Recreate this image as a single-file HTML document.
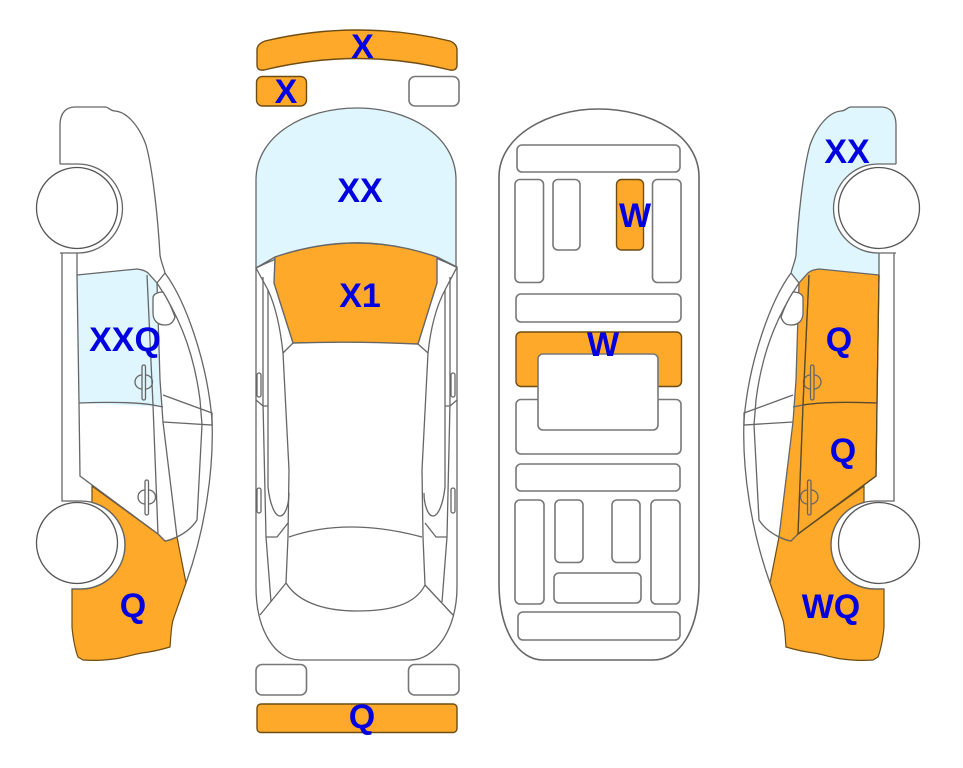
<!DOCTYPE html>
<html><head><meta charset="utf-8"><style>
html,body{margin:0;padding:0;background:#fff}
svg{display:block}
text{font-family:"Liberation Sans",sans-serif;font-weight:bold;fill:#0000e0;font-size:34px;text-anchor:middle}
.l{fill:none;stroke:#666;stroke-width:1.3}
.r{fill:#fff;stroke:#777;stroke-width:1.6}
.o{fill:#ffa92b;stroke:#6e4d12;stroke-width:1.4}
.b{fill:#dff6ff;stroke:#666;stroke-width:1.3}
.w{fill:#fff;stroke:#555;stroke-width:1.3}
.d{fill:none;stroke:#5c4a25;stroke-width:1.3}
</style></head><body>
<svg width="963" height="768" viewBox="0 0 963 768" xmlns="http://www.w3.org/2000/svg">
<defs>
<g id="carlines">
<path class="l" d="M60 164V125C60 112 67 107 75 107L105 107C109 107 110 111 115 111C128 112 140 128 146 145C153 170 158 220 160 255C161 262 163 265 165 273C185 300 207 360 212 420C214 470 205 530 186 583"/>
<path class="l" d="M165 273L157 283C175 310 193 345 200 400L202 425L197 520C192 528 185 533 177 537C172 539 168 541 165 541L158 534L80 476L79 403L77 275V253"/>
<path class="l" d="M60 164H78A44.5 44.5 0 0 1 78 253H60"/>
<path class="l" d="M62 253V501H81A44 44 0 0 1 81 589H72"/>
<path class="l" d="M77 275L137 269Q145 270 148 273L157 283L160 380L163 422L177 537"/>
<path class="l" d="M147 275L153 405L158 534"/>
<path class="l" d="M79 403C105 402 135 402 153 405L163 407"/>
<path class="l" d="M163 395L212 413V425L163 422"/>
<path d="M153 298C153 294 158 292 163 292C168 300 172 308 175 317C173 323 170 325 165 325C157 325 153 320 153 313Z" fill="#fff" stroke="#666" stroke-width="1.3"/>
<rect x="145" y="480" width="3.500" height="35" rx="1.750" class="l"/>
<path class="l" d="M145 490A7 7 0 0 0 145 504M148.500 490A7 7 0 0 1 148.500 504"/>
<rect x="142" y="365" width="3.500" height="35" rx="1.750" class="l"/>
<path class="l" d="M142 375A7 7 0 0 0 142 389M145.500 375A7 7 0 0 1 145.500 389"/>
<circle class="w" cx="77" cy="208" r="40.5"/>
<circle class="w" cx="77" cy="543" r="40.5"/>
</g>
</defs>

<!-- top bumper -->
<path class="o" d="M265 41Q358 19 450 41Q457 44 457 50V65Q457 71 450 70Q358 47 264 70Q257 71 257 65V50Q257 44 265 41Z"/>
<rect class="o" x="256.500" y="76.500" width="50" height="29.500" rx="6"/>
<rect class="r" x="409" y="76.500" width="50" height="29.500" rx="6"/>

<!-- top car -->
<path class="b" d="M256 268V180C256 135 305 108 357 108C408 108 456 135 456 180V267Q357 218 256 268Z"/>
<path class="o" style="stroke:#666" d="M275 257Q357 229 437 257L437 283L418 344Q357 341 293 343L274 283Z"/>
<path class="l" d="M256 268V587C256 630 275 660 300 660H410C435 660 457 630 457 587V267"/>
<path class="l" d="M256 268L275 257M256 268L268 290C275 305 280 325 283 353L289 470L288 537L286 583C300 605 330 611 357 611C390 611 415 605 425 585L423 537L422 470L428 353C431 325 437 305 445 290L457 267L437 257"/>
<path class="l" d="M283 353L293 343M428 353L418 344"/>
<path class="l" d="M263 277V403L266 537L271 602M450 277V403L447 537L442 602"/>
<path class="l" d="M268 290V487C270 505 275 516 280 516C285 516 289 505 289 493M445 290V487C443 505 438 516 433 516C428 516 424 505 424 493"/>
<path class="l" d="M256 400L263 406H268M457 400L450 406H445"/>
<path class="l" d="M266 537H277L288 523M447 537H436L425 523"/>
<path class="l" d="M289 537Q347 517 422 537"/>
<path class="l" d="M260 615L286 583M453 615L425 585"/>
<rect class="l" x="257" y="373" width="4" height="24" rx="2"/><rect class="l" x="257" y="488" width="4" height="25" rx="2"/>
<rect class="l" x="451" y="373" width="4" height="24" rx="2"/><rect class="l" x="451" y="488" width="4" height="25" rx="2"/>

<rect class="r" x="256" y="664.500" width="50.500" height="30.500" rx="6"/>
<rect class="r" x="408.500" y="664.500" width="50.500" height="30.500" rx="6"/>
<rect class="o" x="257" y="704" width="200" height="28.500" rx="4"/>

<!-- middle car -->
<path class="l" style="stroke-width:1.6" d="M499 177C499 135 550 109 598 109C650 109 699 135 699 177V583C699 630 680 660 653 660H543C518 660 499 630 499 583Z"/>
<rect class="r" x="517" y="145" width="163" height="27" rx="5"/>
<rect class="r" x="515" y="179.500" width="28.500" height="103" rx="5"/>
<rect class="r" x="553" y="179.500" width="27" height="70.500" rx="5"/>
<rect class="o" x="616.500" y="179.500" width="27" height="70.500" rx="5"/>
<rect class="r" x="652.500" y="179.500" width="28.500" height="103" rx="5"/>
<rect class="r" x="516" y="294" width="165" height="28" rx="5"/>
<rect class="r" x="516" y="399.500" width="165" height="54.500" rx="5"/>
<rect class="o" x="516" y="332" width="165.500" height="54.500" rx="5"/>
<rect class="r" x="538" y="354" width="120" height="76" rx="5"/>
<rect class="r" x="516" y="464" width="164" height="27" rx="5"/>
<rect class="r" x="515" y="500" width="29" height="104" rx="5"/>
<rect class="r" x="555" y="500" width="28" height="62.500" rx="5"/>
<rect class="r" x="612" y="500" width="28" height="62.500" rx="5"/>
<rect class="r" x="651" y="500" width="29" height="104" rx="5"/>
<rect class="r" x="554" y="573" width="87" height="30" rx="5"/>
<rect class="r" x="518" y="612" width="162" height="28" rx="5"/>

<!-- left car -->
<path d="M77 275L137 269Q145 270 148 273L157 283L160 380L163 407L79 403Z" fill="#dff6ff"/>
<path d="M92 486V502.400A44 44 0 0 1 81 589H72L72 627C73 640 76 652 78 657L83 660C95 661 110 660 120 658C130 656 135 654 142 653C150 652 160 650 170 647C171 635 171 628 173 620L186 583L177 537C172 539 168 541 165 541L158 534Z" fill="#ffa92b" stroke="#6e4d12" stroke-width="1.2"/>
<use href="#carlines"/>

<!-- right car -->
<g transform="translate(956,0) scale(-1,1)">
<path d="M60 164V125C60 112 67 107 75 107L105 107C109 107 110 111 115 111C128 112 140 128 146 145C153 170 158 220 160 255C161 262 163 265 165 273L157 283L148 273Q145 270 137 269L77 275V253H78A44.5 44.5 0 0 0 78 164Z" fill="#dff6ff"/>
<path d="M77 275L137 269Q145 270 148 273L157 283L160 380L163 422L177 537C172 539 168 541 165 541L158 534L80 476L79 403Z" fill="#ffa92b"/>
<path d="M92 486V502.400A44 44 0 0 1 81 589H72L72 627C73 640 76 652 78 657L83 660C95 661 110 660 120 658C130 656 135 654 142 653C150 652 160 650 170 647C171 635 171 628 173 620L186 583L177 537C172 539 168 541 165 541L158 534Z" fill="#ffa92b" stroke="#6e4d12" stroke-width="1.2"/>
<use href="#carlines"/>
<path class="d" d="M147 275L153 405L158 534L80 476L79 403L77 275M79 403C105 402 135 402 153 405"/>
</g>

<text x="362.500" y="58">X</text>
<text x="286" y="103">X</text>
<text x="360" y="202">XX</text>
<text x="360" y="307">X1</text>
<text x="362" y="728">Q</text>
<text x="635" y="227">W</text>
<text x="603" y="356">W</text>
<text x="125" y="351">XXQ</text>
<text x="133" y="617">Q</text>
<text x="847" y="163">XX</text>
<text x="839" y="351">Q</text>
<text x="843" y="462">Q</text>
<text x="831" y="618">WQ</text>
</svg>
</body></html>
